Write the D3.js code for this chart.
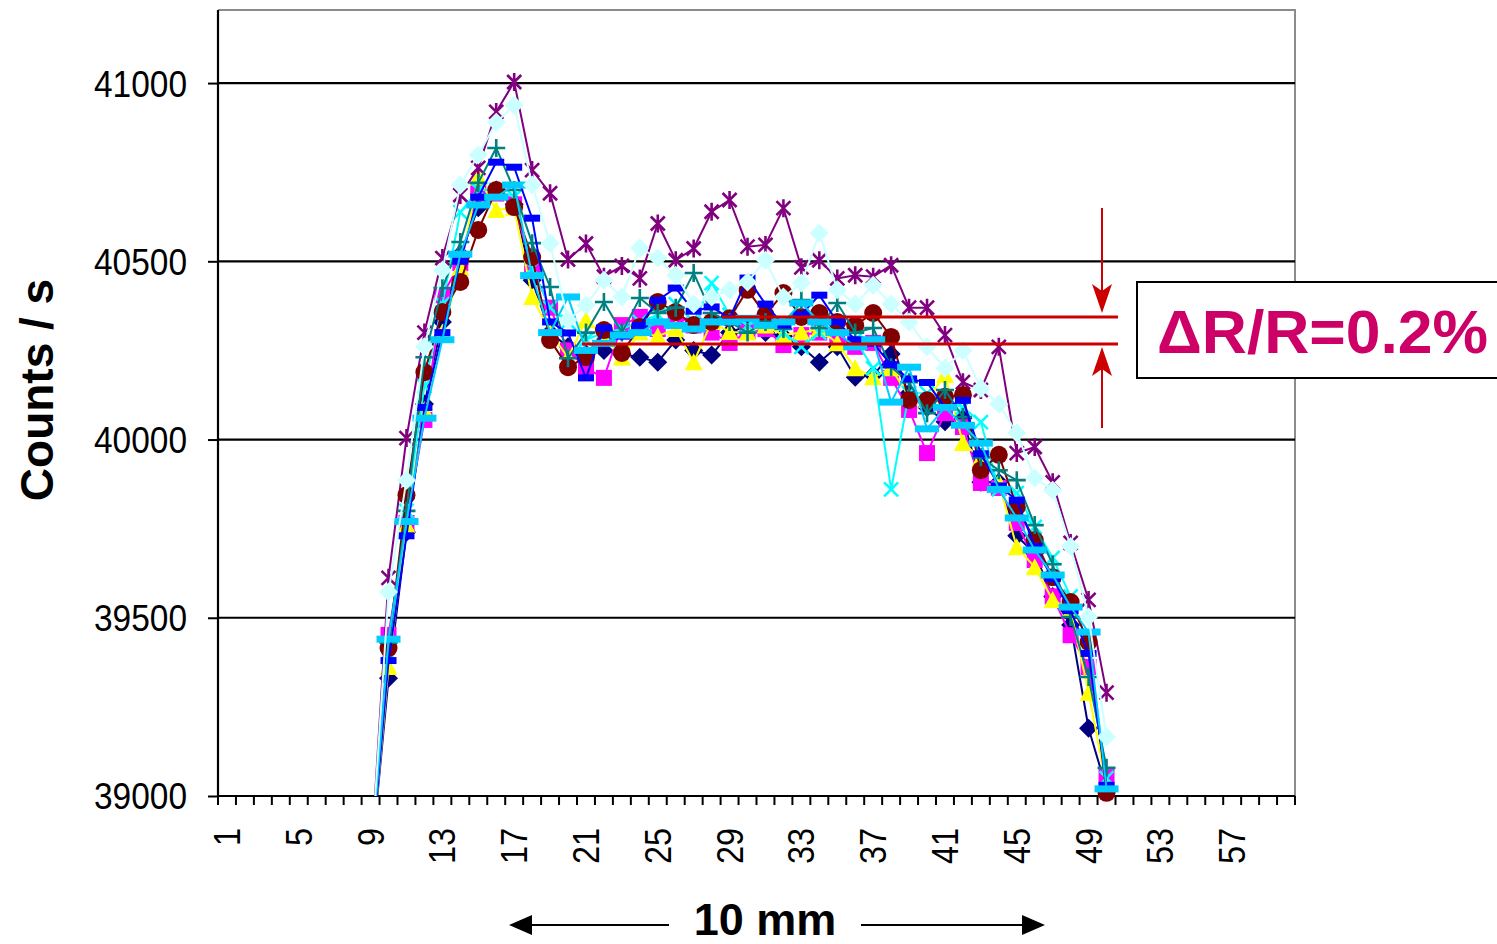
<!DOCTYPE html>
<html><head><meta charset="utf-8">
<script src="https://cdn.jsdelivr.net/npm/d3@7/dist/d3.min.js"></script>
<style>body{margin:0;background:#fff;}svg{display:block;}</style>
</head><body>
<svg id="chart" width="1497" height="944"></svg>
<script>
// ---------- data ----------
const categories = d3.range(1, 61);             // 60 category slots
const xTickLabels = ["1","5","9","13","17","21","25","29","33","37","41","45","49","53","57"];
const yTicks = [39000, 39500, 40000, 40500, 41000];
const yMax = 41205;
const firstCategory = 9;                          // series values start at category 9

const navyDiamond = [38800,39330,39740,40100,40330,40520,40650,40700,40660,40447,40300,40260,40240,40250,40240,40231,40217,40279,40250,40237,40300,40320,40300,40290,40260,40217,40260,40175,40180,40240,40130,40090,40050,40060,39880,39880,39730,39680,39560,39480,39190,39020];
const magentaSquare = [38800,39452,39766,40055,40405,40495,40691,40690,40660,40480,40370,40250,40200,40173,40321,40344,40310,40350,40320,40300,40271,40302,40310,40265,40293,40300,40290,40260,40271,40173,40083,39962,40074,40035,39878,39864,39766,39662,39560,39451,39362,39053];
const yellowTriangle = [38800,39362,39760,40083,40300,40481,40736,40644,40650,40400,40300,40230,40335,40290,40230,40300,40290,40310,40217,40330,40302,40300,40320,40293,40300,40310,40270,40200,40175,40200,40120,40111,40181,39990,39948,39880,39698,39642,39550,39522,39290,39030];
const cyanCross = [38800,39400,39800,40150,40380,40638,40700,40700,40680,40480,40370,40330,40280,40300,40310,40330,40350,40380,40330,40439,40350,40320,40340,40300,40260,40300,40310,40280,40200,39860,40130,40130,40110,40090,40049,39860,39850,39755,39668,39560,39420,39050];
const purpleStar = [38800,39612,40004,40300,40509,40686,40762,40919,41003,40756,40691,40505,40550,40457,40487,40452,40606,40503,40536,40639,40672,40541,40546,40649,40483,40503,40452,40461,40457,40489,40370,40370,40293,40161,40139,40260,39962,39979,39880,39710,39550,39290];
const maroonCircle = [38800,39415,39844,40189,40358,40442,40588,40700,40652,40512,40279,40203,40231,40307,40243,40316,40386,40358,40321,40330,40340,40420,40350,40411,40344,40355,40330,40320,40355,40288,40111,40110,40120,40125,39914,39957,39811,39718,39614,39544,39432,39009];
const tealPlus = [38800,39430,39800,40231,40425,40554,40720,40818,40700,40551,40428,40228,40300,40386,40300,40397,40355,40370,40467,40355,40330,40300,40330,40310,40391,40313,40383,40300,40313,40203,40161,40074,40139,40063,39950,39914,39886,39760,39650,39502,39334,39079];
const blueDash = [38800,39380,39730,40090,40300,40500,40680,40778,40764,40621,40330,40299,40173,40313,40290,40320,40391,40425,40360,40372,40340,40453,40380,40321,40350,40405,40330,40280,40270,40210,40170,40160,40090,40110,39960,39870,39830,39700,39610,39520,39400,39030];
const skyBlueLongDash = [38800,39440,39770,40060,40280,40520,40658,40680,40714,40460,40300,40400,40250,40270,40293,40300,40330,40320,40310,40330,40330,40340,40320,40330,40383,40330,40300,40260,40280,40105,40203,40030,40090,40040,39990,39860,39780,39690,39620,39530,39460,39020];
const lightCyanDiamond = [38800,39572,39886,40260,40475,40714,40798,40890,40938,40714,40551,40335,40377,40447,40400,40537,40509,40461,40380,40400,40420,40442,40503,40400,40439,40579,40420,40380,40433,40380,40330,40260,40200,40250,40144,40100,40018,39892,39858,39700,39502,39166];

const seriesList = [
  {values: navyDiamond,      color: "#000080", marker: "diamond"},
  {values: magentaSquare,    color: "#FF00FF", marker: "square"},
  {values: yellowTriangle,   color: "#FFFF00", marker: "triangle"},
  {values: cyanCross,        color: "#00FFFF", marker: "x"},
  {values: purpleStar,       color: "#800080", marker: "star"},
  {values: maroonCircle,     color: "#800000", marker: "circle"},
  {values: tealPlus,         color: "#008080", marker: "plus"},
  {values: blueDash,         color: "#0000FF", marker: "dash"},
  {values: skyBlueLongDash,  color: "#00CCFF", marker: "longdash"},
  {values: lightCyanDiamond, color: "#CCFFFF", marker: "diamond"}
];

const bandLower = 40268, bandUpper = 40344;      // ΔR/R annotation levels
const annotationText = "\u0394R/R=0.2%";

// ---------- layout ----------
const L = 218, R = 1295, T = 10, B = 796;
const svg = d3.select("#chart");
svg.append("rect").attr("width",1497).attr("height",944).attr("fill","#fff");

const x = d3.scaleBand().domain(categories).range([L, R]).padding(0);
const xc = c => x(c) + x.bandwidth()/2;
const y = d3.scaleLinear().domain([yTicks[0], yMax]).range([B, T]);

// plot frame (grey top/right)
svg.append("path").attr("d", `M${L},${T}H${R}V${B}`).attr("fill","none").attr("stroke","#8c8c8c").attr("stroke-width",2);

// gridlines
svg.append("g").selectAll("line").data(yTicks.slice(1)).join("line")
  .attr("x1",L).attr("x2",R).attr("y1",d=>y(d)).attr("y2",d=>y(d))
  .attr("stroke","#000").attr("stroke-width",2.2);

// y axis
const yAxis = svg.append("g").attr("transform",`translate(${L},0)`)
  .call(d3.axisLeft(y).tickValues(yTicks).tickSize(10).tickPadding(20).tickFormat(d3.format("d")));
yAxis.select(".domain").attr("stroke","#000").attr("stroke-width",2.2).attr("d",`M0,${T}V${B}`);
yAxis.selectAll(".tick line").attr("stroke","#000").attr("stroke-width",2);
yAxis.selectAll(".tick text").attr("font-family","'Liberation Sans', Arial, sans-serif")
  .attr("font-size",36).attr("fill","#000").attr("textLength",93).attr("lengthAdjust","spacingAndGlyphs")
  .attr("x",-31).attr("dy","0.36em");

// x axis
const xAxisG = svg.append("g");
xAxisG.append("line").attr("x1",L).attr("x2",R).attr("y1",B).attr("y2",B).attr("stroke","#000").attr("stroke-width",2.2);
xAxisG.selectAll("line.tk").data(categories.concat([null])).join("line").attr("class","tk")
  .attr("x1",d=> d===null ? R : x(d)).attr("x2",d=> d===null ? R : x(d))
  .attr("y1",B).attr("y2",B+9).attr("stroke","#000").attr("stroke-width",2);
xAxisG.selectAll("text").data(xTickLabels).join("text")
  .attr("transform", d => `translate(${xc(+d)},828) rotate(-90)`)
  .attr("text-anchor","end").attr("dy","0.36em")
  .attr("font-family","'Liberation Sans', Arial, sans-serif").attr("font-size",36)
  .attr("textLength", d => d.length*18).attr("lengthAdjust","spacingAndGlyphs")
  .text(d=>d);

// axis titles
svg.append("text").attr("transform","translate(53,390) rotate(-90)").attr("text-anchor","middle")
  .attr("font-family","'Liberation Sans', Arial, sans-serif").attr("font-weight","bold").attr("font-size",46)
  .text("Counts / s");
svg.append("text").attr("x",765).attr("y",935).attr("text-anchor","middle")
  .attr("font-family","'Liberation Sans', Arial, sans-serif").attr("font-weight","bold").attr("font-size",45)
  .text("10 mm");
// 10 mm arrows
const ay = 925;
svg.append("line").attr("x1",528).attr("x2",669).attr("y1",ay).attr("y2",ay).attr("stroke","#000").attr("stroke-width",2);
svg.append("path").attr("d",`M509,${ay}L532,${ay-10}L532,${ay+10}Z`).attr("fill","#000");
svg.append("line").attr("x1",861).attr("x2",1026).attr("y1",ay).attr("y2",ay).attr("stroke","#000").attr("stroke-width",2);
svg.append("path").attr("d",`M1045,${ay}L1022,${ay-10}L1022,${ay+10}Z`).attr("fill","#000");

// ---------- series ----------
svg.append("clipPath").attr("id","plotclip").append("rect").attr("x",L).attr("y",T).attr("width",R-L).attr("height",B-T);

const markerPath = {
  diamond:  "M0,-9.5L9.5,0L0,9.5L-9.5,0Z",
  square:   "M-8,-8H8V8H-8Z",
  triangle: "M0,-9L9,8H-9Z",
  circle:   "M-9,0A9,9 0 1,0 9,0A9,9 0 1,0 -9,0Z",
  dash:     "M-8,-3.5H8V3.5H-8Z",
  longdash: "M-12,-3.5H12V3.5H-12Z",
  x:        "M-7,-7L7,7M-7,7L7,-7",
  star:     "M-7,-7L7,7M-7,7L7,-7M0,-9V9",
  plus:     "M-9,0H9M0,-9V9"
};
const strokeMarkers = new Set(["x","star","plus"]);

seriesList.forEach(s => {
  const pts = s.values.map((v,i) => ({c: firstCategory + i, v}));
  const line = d3.line().x(d => xc(d.c)).y(d => y(d.v));
  const g = svg.append("g");
  g.append("path").attr("d", line(pts)).attr("fill","none").attr("stroke", s.color)
    .attr("stroke-width",2).attr("clip-path","url(#plotclip)");
  g.selectAll("path.m").data(pts.filter(d => d.v >= yTicks[0])).join("path").attr("class","m")
    .attr("transform", d => `translate(${xc(d.c)},${y(d.v)})`)
    .attr("d", markerPath[s.marker])
    .attr("fill", strokeMarkers.has(s.marker) ? "none" : s.color)
    .attr("stroke", strokeMarkers.has(s.marker) ? s.color : "none")
    .attr("stroke-width", 2.6);
});

// ---------- annotation ----------
const red = "#CC0000";
svg.append("line").attr("x1",722).attr("x2",1118).attr("y1",y(bandUpper)).attr("y2",y(bandUpper)).attr("stroke",red).attr("stroke-width",3);
svg.append("line").attr("x1",582).attr("x2",1118).attr("y1",y(bandLower)).attr("y2",y(bandLower)).attr("stroke",red).attr("stroke-width",3);
const axr = 1102, tipTop = y(bandUpper)-4, tipBot = y(bandLower)+3;
svg.append("line").attr("x1",axr).attr("x2",axr).attr("y1",208).attr("y2",tipTop-20).attr("stroke",red).attr("stroke-width",2);
svg.append("path").attr("d",`M${axr},${tipTop}L${axr-10},${tipTop-29}L${axr},${tipTop-22}L${axr+10},${tipTop-29}Z`).attr("fill",red);
svg.append("line").attr("x1",axr).attr("x2",axr).attr("y1",tipBot+20).attr("y2",428).attr("stroke",red).attr("stroke-width",2);
svg.append("path").attr("d",`M${axr},${tipBot}L${axr-10},${tipBot+29}L${axr},${tipBot+22}L${axr+10},${tipBot+29}Z`).attr("fill",red);

svg.append("rect").attr("x",1137).attr("y",282).attr("width",380).attr("height",96)
  .attr("fill","#fff").attr("stroke","#000").attr("stroke-width",2);
svg.append("text").attr("x",1157).attr("y",353)
  .attr("font-family","'Liberation Sans', Arial, sans-serif").attr("font-weight","bold").attr("font-size",61)
  .attr("fill","#CC0066").attr("textLength",331).attr("lengthAdjust","spacingAndGlyphs")
  .text(annotationText);
</script>
</body></html>
